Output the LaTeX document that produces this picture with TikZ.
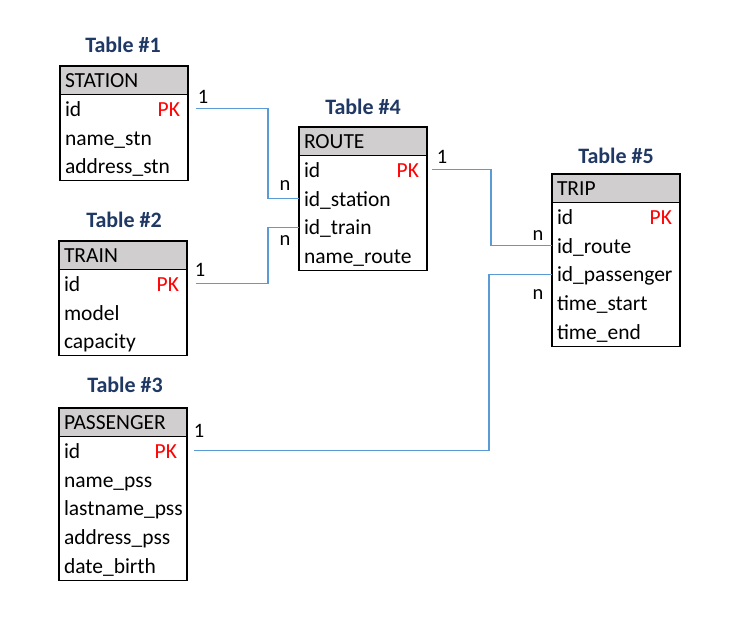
\documentclass[tikz,border=0pt]{standalone}
\usepackage{fontspec}
\setmainfont{Carlito}
\definecolor{hdrgray}{HTML}{D0CECE}
\definecolor{titleblue}{HTML}{1F3864}
\definecolor{linkblue}{HTML}{5B9BD5}
\definecolor{pkred}{HTML}{FF0000}

\begin{document}
\begin{tikzpicture}[x=1pt,y=-1pt,
  every node/.style={font=\fontsize{21.5}{24}\selectfont, inner sep=0pt, outer sep=0pt},
  hdr/.style={draw, line width=1.4pt, fill=hdrgray, anchor=north west,
    minimum height=28.5pt, text width=118pt, inner xsep=5pt, align=left,
    text height=19pt, text depth=4pt},
  row/.style={anchor=north west, minimum height=28.75pt, text width=118pt,
    inner xsep=5pt, align=left, text height=19pt, text depth=4pt},
  pk/.style={anchor=east, text=pkred, text height=19pt, text depth=4pt},
  body/.style={draw, line width=1.4pt},
  title/.style={font=\fontsize{22}{24}\selectfont\bfseries, text=titleblue},
  link/.style={draw=linkblue, line width=1.1pt},
  card/.style={font=\fontsize{20.5}{22}\selectfont}
]
\useasboundingbox (0,0) rectangle (741,638);

% STATION
\node[title] (t1) at (123,45) {Table \#1};
\node[hdr] (station) at (60,66) {STATION};
\node[row] (station-id) at (station.south west) {id};
\node[row] (station-name) at (station-id.south west) {name\_stn};
\node[row] (station-addr) at (station-name.south west) {address\_stn};
\node[pk] at ([xshift=-8pt]station-id.east) {PK};
\draw[body] (station.south west) rectangle (station-addr.south east);

% TRAIN
\node[title] (t2) at (124,220) {Table \#2};
\node[hdr] (train) at (59,241) {TRAIN};
\node[row] (train-id) at (train.south west) {id};
\node[row] (train-model) at (train-id.south west) {model};
\node[row] (train-cap) at (train-model.south west) {capacity};
\node[pk] at ([xshift=-8pt]train-id.east) {PK};
\draw[body] (train.south west) rectangle (train-cap.south east);

% PASSENGER
\node[title] (t3) at (125,385) {Table \#3};
\node[hdr] (pass) at (59,408) {PASSENGER};
\node[row] (pass-id) at (pass.south west) {id};
\node[row] (pass-name) at (pass-id.south west) {name\_pss};
\node[row] (pass-last) at (pass-name.south west) {lastname\_pss};
\node[row] (pass-addr) at (pass-last.south west) {address\_pss};
\node[row] (pass-birth) at (pass-addr.south west) {date\_birth};
\node[pk] at ([xshift=-10pt]pass-id.east) {PK};
\draw[body] (pass.south west) rectangle (pass-birth.south east);

% ROUTE
\node[title] (t4) at (363,107) {Table \#4};
\node[hdr] (route) at (299,127) {ROUTE};
\node[row] (route-id) at (route.south west) {id};
\node[row] (route-station) at (route-id.south west) {id\_station};
\node[row] (route-train) at (route-station.south west) {id\_train};
\node[row] (route-name) at (route-train.south west) {name\_route};
\node[pk] at ([xshift=-8pt]route-id.east) {PK};
\draw[body] (route.south west) rectangle (route-name.south east);

% TRIP
\node[title] (t5) at (616,156) {Table \#5};
\node[hdr] (trip) at (552,174) {TRIP};
\node[row] (trip-id) at (trip.south west) {id};
\node[row] (trip-route) at (trip-id.south west) {id\_route};
\node[row] (trip-pass) at (trip-route.south west) {id\_passenger};
\node[row] (trip-start) at (trip-pass.south west) {time\_start};
\node[row] (trip-end) at (trip-start.south west) {time\_end};
\node[pk] at ([xshift=-8pt]trip-id.east) {PK};
\draw[body] (trip.south west) rectangle (trip-end.south east);

% bend columns of the connectors
\coordinate (bendA) at (268,0);
\coordinate (bendB) at (491,0);
\coordinate (bendC) at (489,0);

% STATION.id -> ROUTE.id_station
\draw[link] ([xshift=8pt]station-id.east) -- (bendA |- station-id.east)
  -- (bendA |- route-station.west) -- (route-station.west);
% TRAIN.id -> ROUTE.id_train
\draw[link] ([xshift=9pt]train-id.east) -- (bendA |- train-id.east)
  -- (bendA |- route-train.west) -- (route-train.west);
% ROUTE.id -> TRIP.id_route
\draw[link] ([xshift=5pt]route-id.east) -- (bendB |- route-id.east)
  -- (bendB |- trip-route.west) -- (trip-route.west);
% PASSENGER.id -> TRIP.id_passenger
\draw[link] ([xshift=7pt]pass-id.east) -- (bendC |- pass-id.east)
  -- (bendC |- trip-pass.west) -- (trip-pass.west);

% cardinalities
\node[card] (c1) at (203,97) {1};
\node[card] (c2) at (285,186) {n};
\node[card] (c3) at (200,270) {1};
\node[card] (c4) at (285,241) {n};
\node[card] (c5) at (442,157) {1};
\node[card] (c6) at (538,236) {n};
\node[card] (c7) at (199,431) {1};
\node[card] (c8) at (538,295) {n};
\end{tikzpicture}
\end{document}
